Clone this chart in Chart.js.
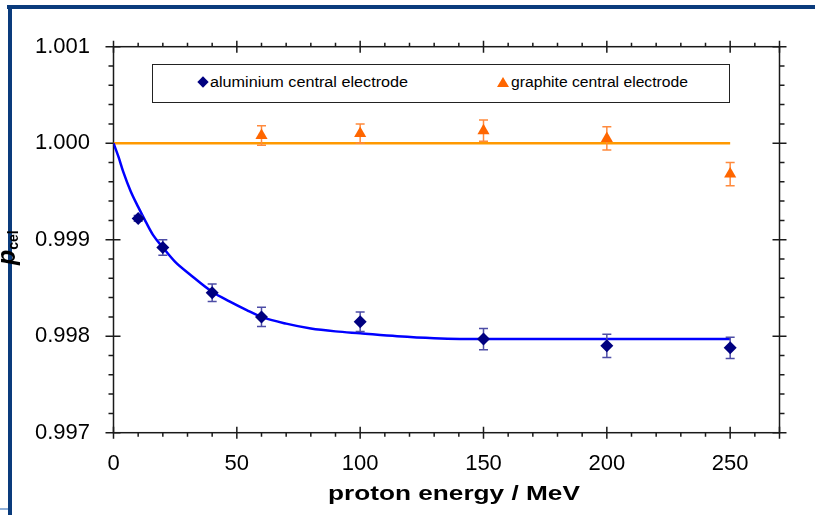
<!DOCTYPE html>
<html>
<head>
<meta charset="utf-8">
<script src="https://cdn.jsdelivr.net/npm/chart.js@4.4.1/dist/chart.umd.min.js"></script>
<style>
  html, body { margin: 0; padding: 0; background: #fff; }
  #wrap { position: relative; width: 815px; height: 515px; overflow: hidden;
          font-family: 'Liberation Sans', Arial, sans-serif; color: #000; }
  #c { position: absolute; left: 0; top: 0; }
  .bar { position: absolute; background: #0a3b7c; }
  .fit { position: absolute; white-space: nowrap; display: inline-block; transform-origin: 0 50%; }
  #legend { position: absolute; left: 152px; top: 64px; width: 578px; height: 39px;
            box-sizing: border-box; border: 1px solid #222; background: #fff; }
  .diamond { position: absolute; width: 8px; height: 8px; background: #000080; transform: rotate(45deg); }
  .tri { position: absolute; width: 0; height: 0; border-left: 6px solid transparent;
         border-right: 6px solid transparent; border-bottom: 10px solid #ff6600; }
  #ytitle { position: absolute; left: -6px; top: 265px; transform-origin: 0 0; transform: rotate(-90deg);
            white-space: nowrap; font-weight: bold; line-height: 24px; }
  #ytitle i { font-size: 25px; }
  #ytitle sub { font-size: 14px; font-style: normal; vertical-align: -3px; }
</style>
</head>
<body>
<div id="wrap">
  <div class="bar" style="left:7px; top:5px; width:808px; height:4px;"></div>
  <div class="bar" style="left:8px; top:5px; width:4px; height:510px;"></div>
  <div class="bar" style="left:0; top:508px; width:8px; height:2px; background:#8fb0d9;"></div>

  <canvas id="c" width="815" height="515"></canvas>

  <div id="legend"></div>
  <div class="diamond" style="left:199px; top:78px;"></div>
  <span class="fit" data-w="198" style="left:210px; top:75px; font-size:14px; line-height:14px;">aluminium central electrode</span>
  <div class="tri" style="left:497px; top:77px;"></div>
  <span class="fit" data-w="177" style="left:511px; top:75px; font-size:14px; line-height:14px;">graphite central electrode</span>

  <span class="fit" data-w="252" style="left:328px; top:482px; font-size:21px; line-height:21px; font-weight:bold;">proton energy / MeV</span>
  <div id="ytitle"><i>p</i><sub>cel</sub></div>
</div>

<script>
// ticks des axes
const xTicks = [0, 50, 100, 150, 200, 250];
const yTicks = [0.997, 0.998, 0.999, 1.000, 1.001];

// électrode centrale aluminium (losanges) : énergie, valeur, incertitude
const alEnergy = [10, 20, 40, 60, 100, 150, 200, 250];
const alValue  = [0.99922, 0.99892, 0.99845, 0.99820, 0.99815, 0.99797, 0.99790, 0.99788];
const alError  = [0.00003, 0.00008, 0.00009, 0.00010, 0.00010, 0.00011, 0.00012, 0.00011];

// électrode centrale graphite (triangles)
const grEnergy = [60, 100, 150, 200, 250];
const grValue  = [1.00008, 1.00010, 1.00013, 1.00005, 0.99968];
const grError  = [0.00010, 0.00010, 0.00011, 0.00012, 0.00012];

// courbe d'ajustement (bleue)
const fitEnergy = [0, 2, 4, 7, 10, 13, 16, 20, 25, 31, 40, 47, 54, 60, 70, 80, 90, 100, 115, 130, 150, 200, 250];
const fitValue  = [1.00000, 0.99986, 0.99970, 0.99950, 0.99934, 0.99919, 0.99905, 0.99892, 0.99877, 0.99864,
                   0.99846, 0.99836, 0.99827, 0.99820, 0.99813, 0.99808, 0.99805, 0.99803, 0.99800, 0.99798,
                   0.99797, 0.99797, 0.99797];

// ligne de référence (orange)
const refEnergy = [0, 250];
const refValue  = [1.000, 1.000];

const FONT = "'Liberation Sans', Arial, sans-serif";
const toPoints = (xs, ys) => xs.map((x, i) => ({ x, y: ys[i] }));

// cadre + graduations façon Excel (majeures croisées, mineures vers l'extérieur)
const framePlugin = {
  id: 'frame',
  beforeDatasetsDraw(chart) {
    const { ctx, chartArea: a, scales: { x, y } } = chart;
    ctx.save();
    ctx.strokeStyle = '#1a1a1a';
    ctx.lineWidth = 1.5;
    ctx.strokeRect(a.left, a.top, a.right - a.left, a.bottom - a.top);
    ctx.beginPath();
    const xMaj = xTicks.map(v => x.getPixelForValue(v)).concat([a.right]);
    xMaj.forEach(px => {
      ctx.moveTo(px, a.bottom - 6); ctx.lineTo(px, a.bottom + 6);
      ctx.moveTo(px, a.top - 6); ctx.lineTo(px, a.top + 6);
    });
    for (let v = 10; v < 270; v += 10) {
      if (v % 50 === 0) continue;
      const px = x.getPixelForValue(v);
      ctx.moveTo(px, a.bottom); ctx.lineTo(px, a.bottom + 4);
      ctx.moveTo(px, a.top); ctx.lineTo(px, a.top - 4);
    }
    yTicks.forEach(v => {
      const py = y.getPixelForValue(v);
      ctx.moveTo(a.left - 8, py); ctx.lineTo(a.left + 7, py);
      ctx.moveTo(a.right - 7, py); ctx.lineTo(a.right + 7, py);
    });
    for (let k = 1; k < 20; k++) {
      if (k % 5 === 0) continue;
      const py = y.getPixelForValue(0.997 + k * 0.0002);
      ctx.moveTo(a.left - 5, py); ctx.lineTo(a.left, py);
      ctx.moveTo(a.right, py); ctx.lineTo(a.right + 5, py);
    }
    ctx.stroke();
    ctx.restore();
  }
};

// barres d'erreur, dessinées juste avant les marqueurs
const errorBarPlugin = {
  id: 'errorBars',
  beforeDatasetDraw(chart, args) {
    const ds = chart.data.datasets[args.index];
    if (!ds.errs) return;
    const { ctx, scales: { x, y } } = chart;
    ctx.save();
    ctx.strokeStyle = ds.errColor;
    ctx.lineWidth = 1.5;
    ctx.beginPath();
    ds.data.forEach((p, i) => {
      const px = x.getPixelForValue(p.x);
      const y1 = y.getPixelForValue(p.y - ds.errs[i]);
      const y2 = y.getPixelForValue(p.y + ds.errs[i]);
      ctx.moveTo(px, y1); ctx.lineTo(px, y2);
      ctx.moveTo(px - 4.5, y1); ctx.lineTo(px + 4.5, y1);
      ctx.moveTo(px - 4.5, y2); ctx.lineTo(px + 4.5, y2);
    });
    ctx.stroke();
    ctx.restore();
  }
};

new Chart(document.getElementById('c'), {
  type: 'scatter',
  data: {
    datasets: [
      {
        label: 'aluminium central electrode',
        data: toPoints(alEnergy, alValue),
        errs: alError,
        errColor: '#4d4da6',
        pointStyle: 'rectRot',
        pointRadius: 6.5,
        backgroundColor: '#000080',
        borderColor: '#000080',
        borderWidth: 0,
      },
      {
        label: 'graphite central electrode',
        data: toPoints(grEnergy, grValue),
        errs: grError,
        errColor: '#ff8a3d',
        pointStyle: 'triangle',
        pointRadius: 7,
        backgroundColor: '#ff6600',
        borderColor: '#ff6600',
        borderWidth: 0,
      },
      {
        label: 'fit',
        data: toPoints(fitEnergy, fitValue),
        showLine: true,
        borderColor: '#0000ff',
        borderWidth: 2.5,
        pointRadius: 0,
        cubicInterpolationMode: 'monotone',
      },
      {
        label: 'reference',
        data: toPoints(refEnergy, refValue),
        showLine: true,
        borderColor: '#ff9900',
        borderWidth: 2.5,
        pointRadius: 0,
      },
    ],
  },
  options: {
    responsive: false,
    animation: false,
    layout: { padding: { left: 0, right: 35.5, top: 46.7, bottom: 0 } },
    plugins: { legend: { display: false }, tooltip: { enabled: false } },
    scales: {
      x: {
        type: 'linear',
        min: 0,
        max: 270,
        grid: { display: false, drawTicks: false },
        border: { display: false },
        afterBuildTicks: s => { s.ticks = xTicks.map(v => ({ value: v })); },
        afterFit: s => { s.height = 82.3; },
        ticks: {
          padding: 18,
          color: '#000',
          font: { family: FONT, size: 22 },
          maxRotation: 0,
          autoSkip: false,
          callback: v => String(v),
        },
      },
      y: {
        type: 'linear',
        min: 0.997,
        max: 1.001,
        grid: { display: false, drawTicks: false },
        border: { display: false },
        afterBuildTicks: s => { s.ticks = yTicks.map(v => ({ value: v })); },
        afterFit: s => { s.width = 113.5; },
        ticks: {
          padding: 23.5,
          color: '#000',
          font: { family: FONT, size: 22 },
          autoSkip: false,
          callback: v => v.toFixed(3),
        },
      },
    },
  },
  plugins: [framePlugin, errorBarPlugin],
});

// étire horizontalement les textes comme sur la figure d'origine
document.querySelectorAll('.fit').forEach(el => {
  const w = el.getBoundingClientRect().width;
  el.style.transform = 'scaleX(' + (Number(el.dataset.w) / w).toFixed(3) + ')';
});
</script>
</body>
</html>
